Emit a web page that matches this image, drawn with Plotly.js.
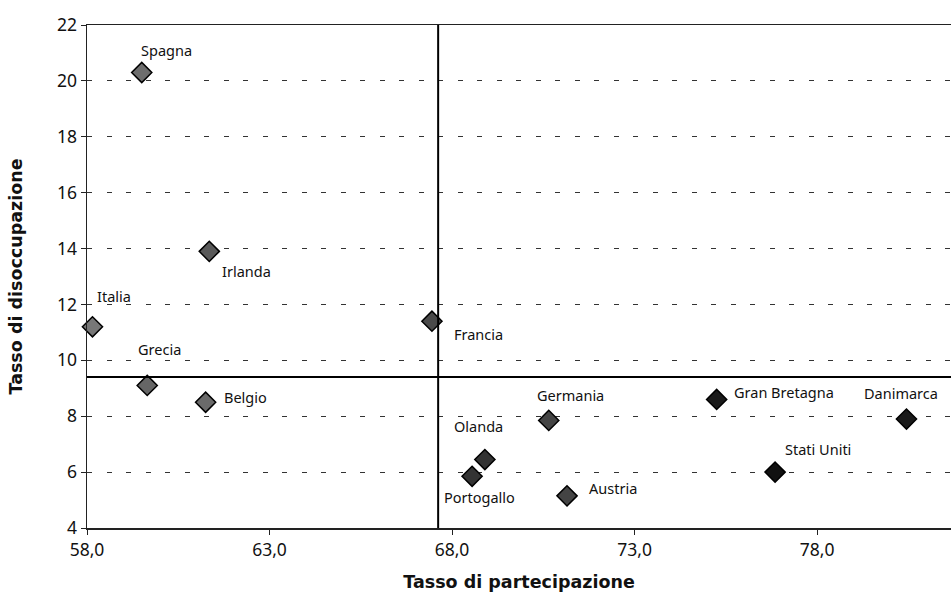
<!DOCTYPE html>
<html>
<head>
<meta charset="utf-8">
<script src="https://cdn.plot.ly/plotly-3.0.1.min.js"></script>
<style>html,body{margin:0;padding:0;background:#fff;}#chart{width:951px;height:592px;}</style>
</head>
<body>
<div id="chart"></div>
<script>
// Data
const countries = ["Spagna","Irlanda","Italia","Grecia","Belgio","Francia","Olanda","Portogallo","Germania","Austria","Gran Bretagna","Stati Uniti","Danimarca"];
const partecipazione = [59.5, 61.35, 58.15, 59.65, 61.25, 67.45, 68.9, 68.55, 70.65, 71.15, 75.25, 76.85, 80.45];
const disoccupazione = [20.3, 13.9, 11.2, 9.1, 8.5, 11.4, 6.45, 5.85, 7.85, 5.15, 8.6, 6.0, 7.9];
const mediaPartecipazione = 67.62;
const mediaDisoccupazione = 9.4;
const xTickVals = [58, 63, 68, 73, 78];
const xTickText = ["58,0", "63,0", "68,0", "73,0", "78,0"];
const yTickVals = [4, 6, 8, 10, 12, 14, 16, 18, 20, 22];

// Label offsets (px) - styling
const labelDX = [25, 37, 22, 12, 40, 47, -6, 7, 22, 46, 67, 43, -5];
const labelDY = [-23, 20, -31, -36, -5, 13, -34, 21, -25, -8, -7, -23, -26];
const markerFill = ["#6e6e6e","#5a5a5a","#777","#666","#6a6a6a","#4a4a4a","#333","#333","#444","#444","#1a1a1a","#111","#1a1a1a"];

const font = "Noto Sans, Lato, sans-serif";

const trace = {
  type: "scatter",
  mode: "markers",
  x: partecipazione,
  y: disoccupazione,
  text: countries,
  hoverinfo: "text",
  marker: {symbol: "diamond", size: 15.5, color: markerFill, line: {color: "#000", width: 1.5}},
  showlegend: false,
  cliponaxis: false
};

const annotations = countries.map((c, i) => ({
  x: partecipazione[i], y: disoccupazione[i], xref: "x", yref: "y",
  text: c, showarrow: false, xshift: labelDX[i], yshift: -labelDY[i],
  font: {family: font, size: 14.5, color: "#111"}
}));

const layout = {
  width: 951, height: 592,
  margin: {l: 87, r: 0, t: 25, b: 64},
  paper_bgcolor: "#fff", plot_bgcolor: "#fff",
  font: {family: font, color: "#111"},
  xaxis: {
    range: [58, 81.67], tickvals: xTickVals, ticktext: xTickText,
    showgrid: false, zeroline: false,
    showline: true, linecolor: "#222", linewidth: 1.5, mirror: true,
    ticks: "outside", ticklen: 5, tickcolor: "#222",
    tickfont: {family: font, size: 17.5, color: "#111"},
    title: {text: "Tasso di partecipazione", standoff: 16, font: {family: "DejaVu Sans", size: 17.5, color: "#111", weight: "bold"}}
  },
  yaxis: {
    range: [4, 22], tickvals: yTickVals,
    showgrid: true, gridcolor: "#333", gridwidth: 1, griddash: "5px,14.5px",
    zeroline: false,
    showline: true, linecolor: "#222", linewidth: 1.5,
    ticks: "outside", ticklen: 5, tickcolor: "#222",
    tickfont: {family: font, size: 17.5, color: "#111"},
    title: {text: "Tasso di disoccupazione", standoff: 30, font: {family: "DejaVu Sans", size: 17.5, color: "#111", weight: "bold"}}
  },
  shapes: [
    {type: "line", xref: "x", yref: "paper", x0: mediaPartecipazione, x1: mediaPartecipazione, y0: 0, y1: 1, line: {color: "#000", width: 2}},
    {type: "line", xref: "paper", yref: "y", x0: 0, x1: 1, y0: mediaDisoccupazione, y1: mediaDisoccupazione, line: {color: "#000", width: 2}}
  ],
  annotations: annotations
};

Plotly.newPlot("chart", [trace], layout, {displayModeBar: false, staticPlot: true});
</script>
</body>
</html>
